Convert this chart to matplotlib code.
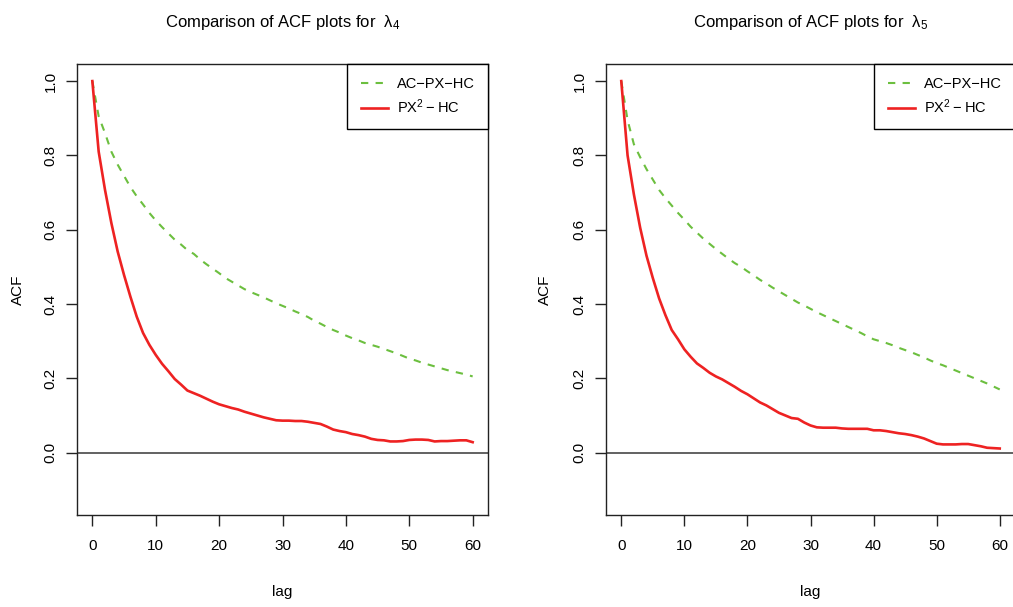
import numpy as np
import matplotlib
matplotlib.use('Agg')
import matplotlib.pyplot as plt

plt.rcParams['font.family'] = ['Liberation Sans', 'DejaVu Sans']
plt.rcParams['mathtext.fontset'] = 'custom'
plt.rcParams['mathtext.rm'] = 'Liberation Sans'
plt.rcParams['mathtext.it'] = 'Liberation Sans:italic'

lags = np.arange(0, 61)

# lambda 4
green_l4 = [1.0, 0.905, 0.86, 0.81, 0.775, 0.745, 0.715, 0.69, 0.668, 0.645,
            0.625, 0.607, 0.59, 0.573, 0.56, 0.545, 0.535, 0.52, 0.507, 0.495,
            0.483, 0.47, 0.46, 0.45, 0.44, 0.432, 0.425, 0.418, 0.41, 0.402,
            0.395, 0.388, 0.38, 0.373, 0.365, 0.355, 0.347, 0.338, 0.33, 0.323,
            0.315, 0.308, 0.302, 0.295, 0.29, 0.285, 0.279, 0.273, 0.267, 0.26,
            0.253, 0.248, 0.242, 0.237, 0.232, 0.227, 0.222, 0.218, 0.214, 0.21,
            0.205]
red_l4 = [1.0, 0.81, 0.707, 0.618, 0.541, 0.478, 0.42, 0.366, 0.322, 0.29,
          0.263, 0.239, 0.219, 0.198, 0.183, 0.167, 0.16, 0.153, 0.145, 0.137,
          0.13, 0.125, 0.12, 0.116, 0.11, 0.105, 0.1, 0.095, 0.091, 0.087,
          0.086, 0.086, 0.085, 0.085, 0.083, 0.08, 0.077, 0.07, 0.062, 0.058,
          0.055, 0.05, 0.047, 0.043, 0.037, 0.034, 0.033, 0.03, 0.03, 0.031,
          0.034, 0.035, 0.035, 0.034, 0.03, 0.031, 0.031, 0.032, 0.033, 0.033,
          0.028]

# lambda 5
green_l5 = [1.0, 0.895, 0.83, 0.795, 0.763, 0.735, 0.707, 0.685, 0.665, 0.645,
            0.627, 0.608, 0.592, 0.576, 0.562, 0.548, 0.535, 0.522, 0.51, 0.5,
            0.488, 0.477, 0.465, 0.455, 0.444, 0.434, 0.424, 0.414, 0.404, 0.396,
            0.387, 0.378, 0.37, 0.362, 0.354, 0.346, 0.338, 0.33, 0.322, 0.313,
            0.305, 0.3, 0.295, 0.289, 0.282, 0.276, 0.27, 0.263, 0.256, 0.248,
            0.241, 0.235, 0.228, 0.221, 0.214, 0.207, 0.2, 0.193, 0.186, 0.178,
            0.17]
red_l5 = [1.0, 0.8, 0.695, 0.605, 0.53, 0.47, 0.415, 0.37, 0.33, 0.305,
          0.278, 0.258, 0.24, 0.228, 0.215, 0.205, 0.197, 0.187, 0.177, 0.166,
          0.157, 0.146, 0.135, 0.127, 0.117, 0.107, 0.1, 0.093, 0.091, 0.081,
          0.073, 0.068, 0.067, 0.067, 0.067, 0.065, 0.064, 0.064, 0.064, 0.064,
          0.06, 0.06, 0.058, 0.055, 0.052, 0.05, 0.047, 0.043, 0.038, 0.031,
          0.024, 0.022, 0.022, 0.022, 0.023, 0.023, 0.02, 0.017, 0.013, 0.012,
          0.011]

xticks = [0, 10, 20, 30, 40, 50, 60]
yticks = [0.0, 0.2, 0.4, 0.6, 0.8, 1.0]
labels = ['AC\u2212PX\u2212HC', 'PX$^2$\u2009\u2212\u2009HC']

green = '#6cbf3f'
red = '#ee2222'

fig = plt.figure(figsize=(10.13, 6.07), dpi=100)
W, H = 1013., 607.
boxes = [(77, 488), (606, 1015)]
ylab_x = [18, 545]
top, bottom = 64, 515
panels = [(green_l4, red_l4, '4'), (green_l5, red_l5, '5')]

for (x0, x1), yl, (g, r, k) in zip(boxes, ylab_x, panels):
    ax = fig.add_axes([x0 / W, 1 - bottom / H, (x1 - x0) / W, (bottom - top) / H])
    ax.plot(lags, g, color=green, lw=1.5, dashes=(3.5, 3.5), label=labels[0])
    ax.plot(lags, r, color=red, lw=1.9, label=labels[1])
    ax.axhline(0, color='#555555', lw=1.3)
    ax.set_xlim(-2.42, 62.42)
    ax.set_ylim(-0.168, 1.046)
    ax.set_xticks(xticks)
    ax.set_xticklabels([str(t) for t in xticks])
    ax.set_yticks(yticks)
    ax.set_yticklabels(['%.1f' % t for t in yticks], rotation=90, va='center')
    ax.tick_params(direction='out', length=8, width=1, colors='#222222',
                   labelsize=11, labelcolor='black')
    ax.tick_params(axis='x', pad=9)
    ax.tick_params(axis='y', pad=6)
    for s in ax.spines.values():
        s.set_color('#222222')
        s.set_linewidth(1)
    ax.set_xlabel('lag', fontsize=11)
    ax.xaxis.label.set_va('center')
    ax.xaxis.set_label_coords(0.5, -0.171)
    ax.set_ylabel('ACF', fontsize=11)
    ax.yaxis.label.set_va('center')
    ax.yaxis.set_label_coords((yl - x0) / (x1 - x0), 0.5)
    ax.text(0.5, 1.093, 'Comparison of ACF plots for  \u03bb$_%s$' % k,
            transform=ax.transAxes, ha='center', va='center', fontsize=12)
    leg = ax.legend(loc='upper right', borderaxespad=0, fancybox=False,
                    edgecolor='black', framealpha=1, fontsize=10.5,
                    handlelength=1.9, handletextpad=0.6, borderpad=0.9,
                    labelspacing=0.45)
    leg.get_frame().set_linewidth(1)

plt.savefig('out.png', dpi=100)
